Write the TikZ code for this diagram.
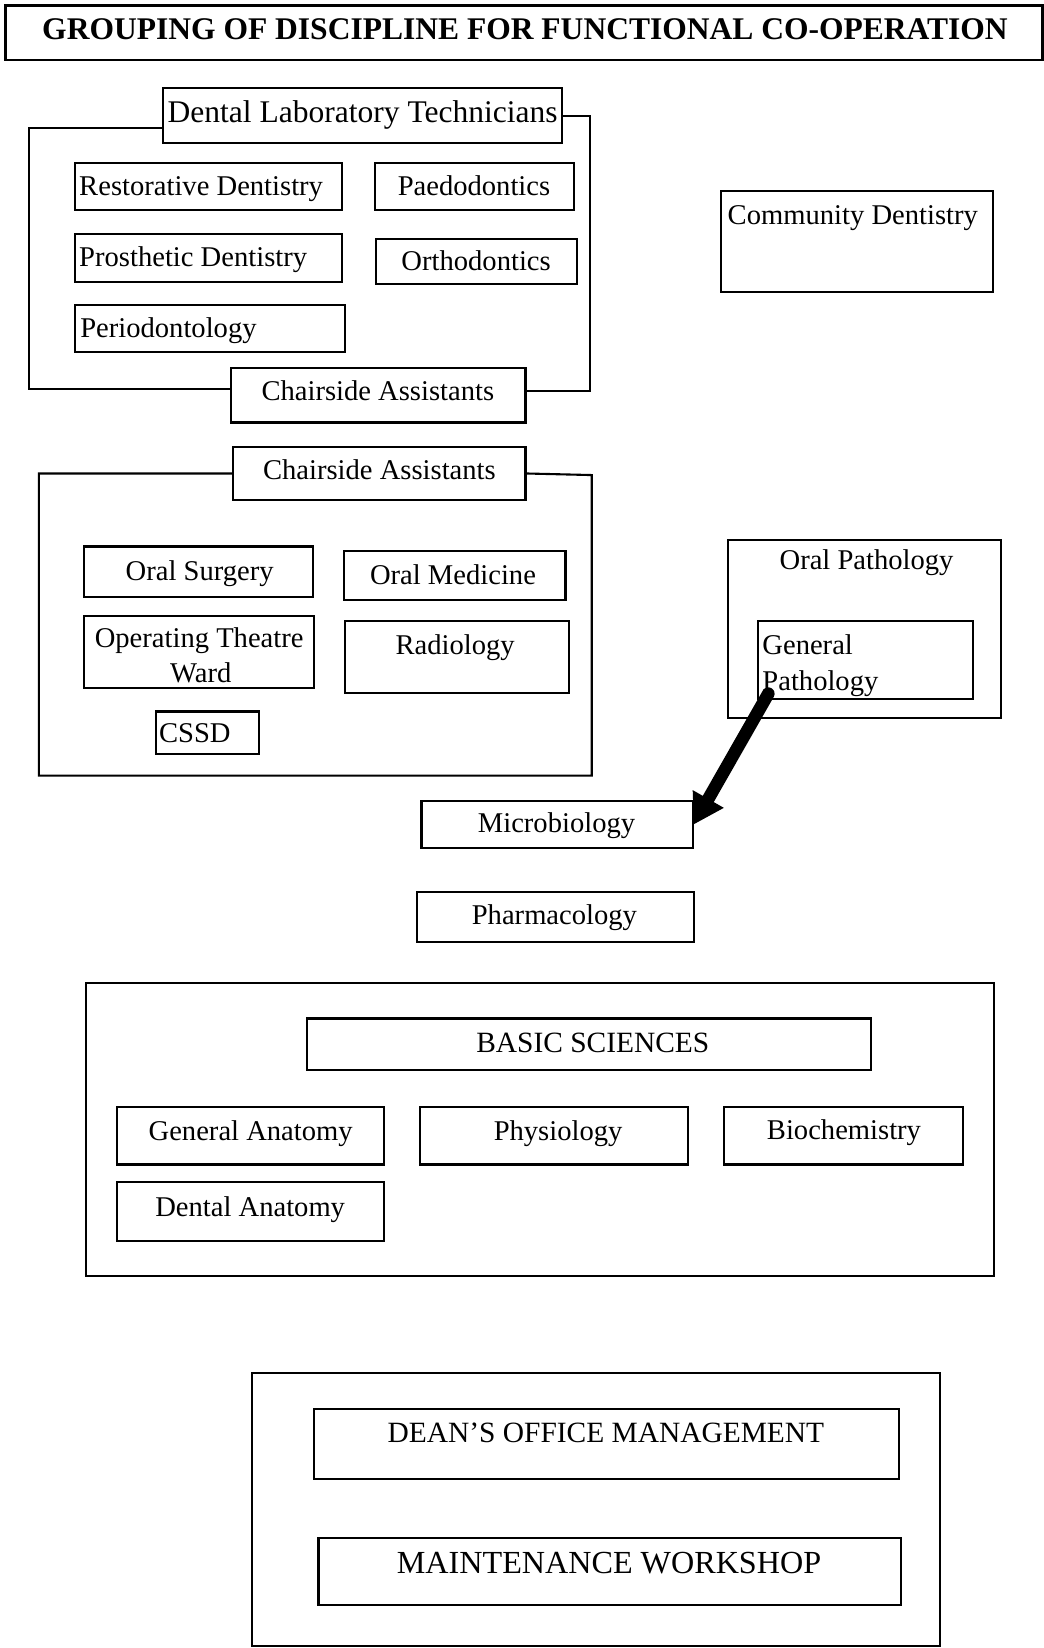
\documentclass[tikz,border=0pt]{standalone}
\usepackage{fontspec}
\setmainfont{Liberation Serif}
\usetikzlibrary{fit,calc,arrows.meta}
\begin{document}
\begin{tikzpicture}[x=0.5pt,y=-0.5pt,
  bx/.style={draw, line width=1pt, inner sep=0pt},
  frame/.style={draw, line width=1pt},
  txt/.style={inner sep=0pt, font=\fontsize{13.6}{17}\selectfont},
  ctr/.style={txt, anchor=base},
  lft/.style={txt, anchor=base west},
  bigarrow/.style={line width=6pt, line cap=round, -{Triangle[length=14pt,width=16pt]}}
]
\useasboundingbox (0,0) rectangle (993,1568);
% title
\node[bx, line width=1.3pt, fit={(5,5)(992,57)}] (title) {};
\node[ctr, font=\bfseries\fontsize{15}{18}\selectfont] (title-t) at (499.5,38) {GROUPING OF DISCIPLINE FOR FUNCTIONAL CO-OPERATION};
% group 1
\node[bx, fit={(155,84)(535,136)}] (dlt) {};
\node[ctr, font=\fontsize{15}{18}\selectfont] (dlt-t) at (345,117) {Dental Laboratory Technicians};
\node[bx, fit={(71,155)(325,200)}] (rd) {};
\node[lft] (rd-t) at (75,186) {Restorative Dentistry};
\node[bx, fit={(357,155)(546,200)}] (paedo) {};
\node[ctr] (paedo-t) at (451,186) {Paedodontics};
\node[bx, fit={(71,223)(325,268)}] (pd) {};
\node[lft] (pd-t) at (75,254) {Prosthetic Dentistry};
\node[bx, fit={(358,227)(549,270)}] (ortho) {};
\node[ctr] (ortho-t) at (453,257) {Orthodontics};
\node[bx, fit={(71,290)(328,335)}] (perio) {};
\node[lft] (perio-t) at (76,321) {Periodontology};
\node[bx, fit={(220,350)(500,402)}] (ca1) {};
\node[ctr] (ca1-t) at (359.5,381) {Chairside Assistants};
\draw[frame] ($(dlt.west)+(0,12)$) -| (28,370) -- ($(ca1.west)+(0,-6)$);
\draw[frame] (dlt.east) -| (561,372) -- ($(ca1.east)+(0,-4)$);
% community
\node[bx, fit={(686,182)(945,278)}] (comm) {};
\node[lft] (comm-t) at (692,214) {Community Dentistry};
% group 2
\node[bx, fit={(222,425)(500,476)}] (ca2) {};
\node[ctr] (ca2-t) at (361,456) {Chairside Assistants};
\draw[frame] (ca2.west) -| (37,738) -| (563,452) -- (ca2.east);
\node[bx, fit={(80,520)(298,568)}] (os) {};
\node[ctr] (os-t) at (190,552) {Oral Surgery};
\node[bx, fit={(327,524)(538,571)}] (om) {};
\node[ctr] (om-t) at (431,556) {Oral Medicine};
\node[bx, fit={(80,586)(299,655)}] (ot) {};
\node[ctr] (ot-t1) at (189.5,616) {Operating Theatre};
\node[ctr] (ot-t2) at (191,649) {Ward};
\node[bx, fit={(328,591)(541,659)}] (rad) {};
\node[ctr] (rad-t) at (433,623) {Radiology};
\node[bx, fit={(148,677)(246,717)}] (cssd) {};
\node[lft] (cssd-t) at (151,706) {CSSD};
% pathology
\node[bx, fit={(693,514)(952,683)}] (op) {};
\node[ctr] (op-t) at (824.5,542) {Oral Pathology};
\node[bx, fit={(721,591)(926,665)}] (gp) {};
\node[lft] (gp-t1) at (725,623) {General};
\node[lft] (gp-t2) at (725,657) {Pathology};
% micro / pharma
\node[bx, fit={(401,762)(659,807)}] (mb) {};
\node[ctr] (mb-t) at (529.5,792) {Microbiology};
\node[bx, fit={(397,849)(660,896)}] (ph) {};
\node[ctr] (ph-t) at (527.5,880) {Pharmacology};
\draw[bigarrow] ($(gp.south west)+(11,-6)$) -- (mb.east);
% basic sciences
\node[bx, fit={(82,935)(946,1214)}] (bsf) {};
\node[bx, fit={(292,969)(829,1018)}] (bs) {};
\node[ctr, font=\fontsize{14}{17}\selectfont] (bs-t) at (564,1001) {BASIC SCIENCES};
\node[bx, fit={(111,1053)(365,1108)}] (ga) {};
\node[ctr] (ga-t) at (238.5,1085) {General Anatomy};
\node[bx, fit={(400,1053)(655,1108)}] (phy) {};
\node[ctr] (phy-t) at (531,1085) {Physiology};
\node[bx, fit={(689,1053)(916,1108)}] (bio) {};
\node[ctr] (bio-t) at (803,1084) {Biochemistry};
\node[bx, fit={(111,1125)(365,1181)}] (da) {};
\node[ctr] (da-t) at (238,1157) {Dental Anatomy};
% management
\node[bx, fit={(240,1306)(894,1566)}] (mf) {};
\node[bx, fit={(299,1341)(855,1407)}] (dean) {};
\node[ctr, font=\fontsize{14}{17}\selectfont] (dean-t) at (576.5,1372) {DEAN’S OFFICE MANAGEMENT};
\node[bx, fit={(303,1463)(857,1527)}] (mw) {};
\node[ctr, font=\fontsize{15.3}{18}\selectfont] (mw-t) at (579.5,1497) {MAINTENANCE WORKSHOP};
\end{tikzpicture}
\end{document}
